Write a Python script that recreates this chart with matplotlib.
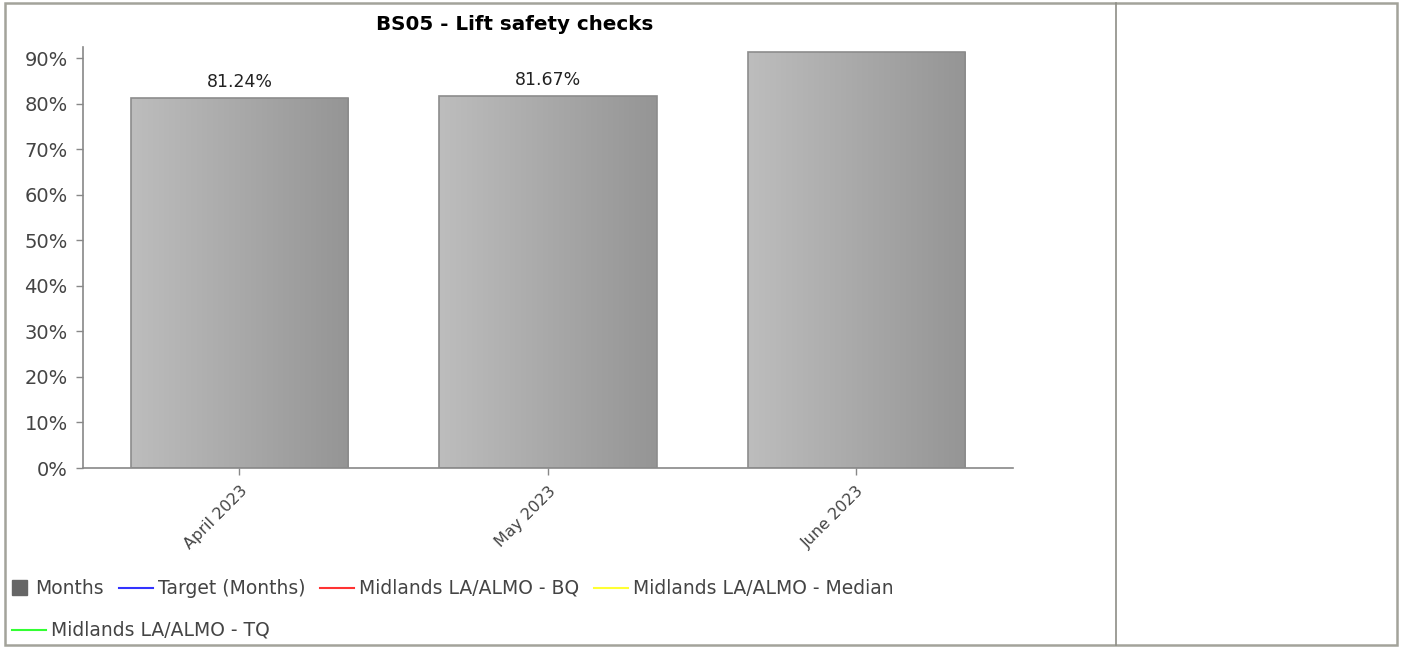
import numpy as np
import matplotlib
matplotlib.use('Agg')
import matplotlib.pyplot as plt
from matplotlib.lines import Line2D
from matplotlib.patches import Rectangle
from matplotlib.colors import LinearSegmentedColormap

# monthly results (percent)
months = ['April 2023', 'May 2023', 'June 2023']
values = [81.24, 81.67, 91.4]
value_labels = ['81.24%', '81.67%', None]

yticks = [0, 10, 20, 30, 40, 50, 60, 70, 80, 90]

legend_names = ['Months', 'Target (Months)', 'Midlands LA/ALMO - BQ',
                'Midlands LA/ALMO - Median', 'Midlands LA/ALMO - TQ']
legend_colors = ['#666666', '#3333ff', '#ff3333', '#ffff33', '#33ff33']

W, H = 1401, 647
fig = plt.figure(figsize=(W / 100, H / 100), dpi=100)
fig.patch.set_facecolor('white')

ax = fig.add_axes([83 / W, 1 - 468 / H, (1013 - 83) / W, (468 - 47) / H])

x = np.arange(len(months))
bars = ax.bar(x, values, width=0.705, color='none', edgecolor='#8c8c8c',
              linewidth=1.2, zorder=3)

# horizontal light-to-dark shading inside each bar
shade = LinearSegmentedColormap.from_list('shade', ['#bdbdbd', '#959595'])
grad = np.linspace(0, 1, 256).reshape(1, -1)
for b in bars:
    x0, w, h = b.get_x(), b.get_width(), b.get_height()
    im = ax.imshow(grad, cmap=shade, extent=(x0, x0 + w, 0, h),
                   aspect='auto', zorder=2, interpolation='bilinear')
    im.set_clip_path(b)

for xi, v, lab in zip(x, values, value_labels):
    if lab:
        ax.annotate(lab, (xi, v), xytext=(0, 5), textcoords='offset points',
                    ha='center', va='bottom', fontsize=12.5, color='#222222')

ax.set_xlim(-0.507, 2.508)
ax.set_ylim(0, 92.5)
ax.set_yticks(yticks)
ax.set_yticklabels([f'{t}%' for t in yticks])
ax.set_xticks(x)
ax.set_xticklabels(months, rotation=45, ha='right', rotation_mode='anchor')

for s in ['top', 'right']:
    ax.spines[s].set_visible(False)
for s in ['left', 'bottom']:
    ax.spines[s].set_color('#888888')
    ax.spines[s].set_linewidth(1.2)
ax.tick_params(axis='both', length=5, width=1, color='#888888',
               labelcolor='#444444')
ax.tick_params(axis='y', labelsize=14, pad=6)
ax.tick_params(axis='x', labelsize=11.5, pad=6)

fig.text(515 / W, 1 - 24 / H, 'BS05 - Lift safety checks', ha='center',
         va='center', fontsize=14.3, fontweight='bold', color='#000000')

# outer frame and the divider on the right
fig.add_artist(Rectangle((4.5 / W, 2.5 / H), (1397 - 4.5) / W, (644 - 2.5) / H,
                         transform=fig.transFigure, fill=False,
                         edgecolor='#a3a39a', linewidth=1.8))
fig.add_artist(Line2D([1116 / W, 1116 / W], [2.5 / H, 1 - 2.5 / H],
                      transform=fig.transFigure, color='#8e8e86', linewidth=1.2))

# legend laid out as a flowing row
fig.canvas.draw()
renderer = fig.canvas.get_renderer()


def legend_item(xp, yp, name, color, box=False):
    if box:
        fig.add_artist(Rectangle((xp / W, 1 - (yp + 7) / H), 15 / W, 15 / H,
                                 transform=fig.transFigure, color=color))
        tx = xp + 23
    else:
        fig.add_artist(Line2D([xp / W, (xp + 34) / W], [1 - yp / H] * 2,
                              transform=fig.transFigure, color=color,
                              linewidth=1.5))
        tx = xp + 39
    t = fig.text(tx / W, 1 - yp / H, name, ha='left', va='center',
                 fontsize=13.5, color='#444444')
    return t.get_window_extent(renderer).x1 + 15


xp = 12
for i in range(4):
    xp = legend_item(xp, 588, legend_names[i], legend_colors[i], box=(i == 0))
legend_item(12, 630, legend_names[4], legend_colors[4])

fig.savefig('out.png', dpi=100)
